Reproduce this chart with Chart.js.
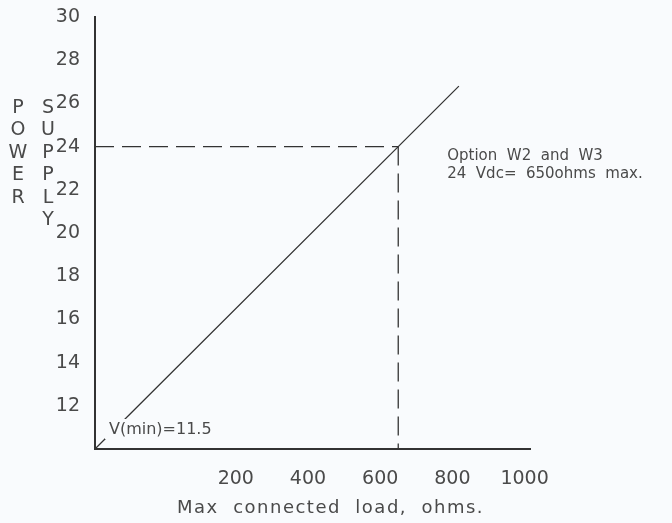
<!DOCTYPE html>
<html>
<head>
<meta charset="utf-8">
<script src="https://cdn.jsdelivr.net/npm/chart.js@4"></script>
<style>
  html, body { margin: 0; padding: 0; background: #f9fbfd; }
  #wrap { width: 672px; height: 523px; }
</style>
</head>
<body>
<div id="wrap"><canvas id="myChart"></canvas></div>
<script>
// data
const loadTicks = [200, 400, 600, 800, 1000];
const supplyLine = [
  { x: -190, y: 10 },
  { x: 650, y: 24 },
  { x: 818, y: 26.8 },
];
const operatingPoint = { x: 650, y: 24 };
const vMin = 11.5;

const ink = '#333';
const textCol = '#4a4a4a';
const font = 'DejaVu Sans';

const hDash = [
  { x: -190, y: operatingPoint.y },
  { x: operatingPoint.x, y: operatingPoint.y },
];
const vDash = [
  { x: operatingPoint.x, y: operatingPoint.y },
  { x: operatingPoint.x, y: 10 },
];

const notes = {
  id: 'notes',
  afterDatasetsDraw(chart) {
    const { ctx, chartArea, scales } = chart;
    ctx.save();
    ctx.fillStyle = textCol;

    // V(min) label, with a bit of paper behind it to break the line
    ctx.font = '16px ' + font;
    const vx = chartArea.left + 14, vy = chartArea.bottom - 19;
    const txt = 'V(min)=' + vMin;
    const w = ctx.measureText(txt).width;
    ctx.fillStyle = '#f9fbfd';
    ctx.fillRect(vx - 4, vy - 11, w + 8, 20);
    ctx.fillStyle = textCol;
    ctx.textBaseline = 'middle';
    ctx.fillText(txt, vx, vy);

    // option note
    ctx.font = '15px ' + font;
    const nx = scales.x.getPixelForValue(operatingPoint.x) + 49;
    const ny = scales.y.getPixelForValue(operatingPoint.y);
    ctx.fillText('Option  W2  and  W3', nx, ny + 10);
    ctx.fillText('24  Vdc=  650ohms  max.', nx, ny + 28);

    // x title
    ctx.font = '18px ' + font;
    ctx.letterSpacing = '1.5px';
    ctx.textAlign = 'left';
    ctx.fillText('Max  connected  load,  ohms.', chartArea.left + 82, chartArea.bottom + 59);
    ctx.letterSpacing = '0px';

    // y title, stacked letters
    ctx.font = '19px ' + font;
    ctx.textAlign = 'center';
    'POWER'.split('').forEach((c, i) => ctx.fillText(c, 18, 108 + i * 22.5));
    'SUPPLY'.split('').forEach((c, i) => ctx.fillText(c, 48, 108 + i * 22.5));
    ctx.restore();
  }
};

const config = {
  type: 'line',
  data: {
    datasets: [
      {
        data: supplyLine,
        borderColor: ink,
        borderWidth: 1.3,
        pointRadius: 0,
      },
      {
        data: hDash,
        borderColor: ink,
        borderWidth: 1.3,
        borderDash: [19, 8],
        pointRadius: 0,
      },
      {
        data: vDash,
        borderColor: ink,
        borderWidth: 1.3,
        borderDash: [19, 8],
        pointRadius: 0,
      },
    ]
  },
  options: {
    responsive: true,
    maintainAspectRatio: false,
    animation: false,
    layout: { padding: { top: 17, right: 142, left: 0, bottom: 0 } },
    plugins: {
      legend: { display: false },
      tooltip: { enabled: false },
    },
    scales: {
      x: {
        type: 'linear',
        min: -190,
        max: 1015,
        grid: { display: false, drawTicks: false },
        border: { display: true, color: ink, width: 2 },
        afterBuildTicks(scale) {
          scale.ticks = loadTicks.map(v => ({ value: v }));
        },
        afterFit(scale) { scale.height = 74; },
        ticks: {
          color: textCol,
          font: { family: font, size: 19 },
          padding: 19,
          maxRotation: 0,
          callback: v => String(v),
        },
      },
      y: {
        min: 10,
        max: 30,
        grid: { display: false, drawTicks: false },
        border: { display: true, color: ink, width: 2 },
        afterFit(scale) {
          scale.width = 95;
          scale.paddingTop = 0;
          scale.paddingBottom = 0;
        },
        ticks: {
          stepSize: 2,
          color: textCol,
          font: { family: font, size: 19 },
          padding: 15,
          callback: v => (v === 10 ? '' : v),
        },
      },
    },
  },
  plugins: [notes],
};

const myChart = new Chart(document.getElementById('myChart'), config);
</script>
</body>
</html>
